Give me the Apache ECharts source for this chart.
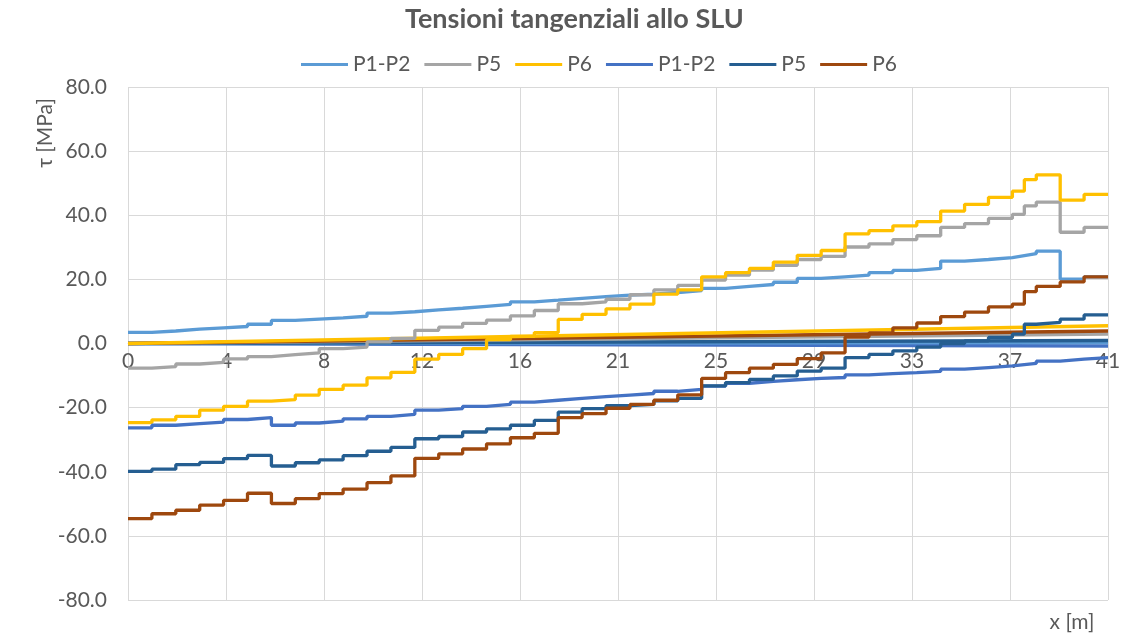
<!DOCTYPE html>
<html>
<head>
<meta charset="utf-8">
<script src="https://cdn.jsdelivr.net/npm/echarts@6/dist/echarts.min.js"></script>
<style>
  html, body { margin: 0; padding: 0; background: #ffffff; }
  #chart { width: 1125px; height: 637px; }
</style>
</head>
<body>
<div id="chart"></div>
<script>
// Stations along the beam [m]; each value below holds from one station to the next.
const stations = [0, 1, 2, 3, 4, 5, 6, 7, 8, 9, 10, 11, 12, 13, 14, 15, 16, 17, 18, 19, 20,
  21, 22, 23, 24, 25, 26, 27, 28, 29, 30, 31, 32, 33, 34, 35, 36, 37, 37.5, 38, 39, 40, 41];

// Tick labels shown on the x axis
const xTickLabels = ['0', '4', '8', '12', '16', '21', '25', '29', '33', '37', '41'];

// Shear stress tau [MPa] per segment
const tauP12a = [3.5, 3.9, 4.5, 4.9, 5.3, 6.0, 7.2, 7.6, 8.0, 8.5, 9.5, 9.9, 10.5, 11.0, 11.6, 12.2,
  13.0, 13.5, 14.1, 14.6, 15.1, 15.4, 15.9, 16.5, 17.2, 17.8, 18.4, 19.1, 20.3, 20.8, 21.3, 22.1,
  22.8, 23.4, 25.7, 26.2, 26.8, 27.4, 28.0, 28.8, 20.1, 20.8];
const tauP5a = [-7.7, -7.2, -6.4, -5.9, -4.8, -4.1, -3.5, -2.9, -1.6, -1.1, 0.5, 1.6, 4.1, 5.1, 6.3, 7.3,
  8.6, 10.3, 12.4, 13.0, 13.8, 15.2, 16.7, 18.1, 19.8, 21.3, 22.9, 24.4, 26.2, 27.2, 30.1, 31.1,
  32.4, 33.6, 36.2, 37.4, 39.0, 40.3, 42.9, 44.1, 34.7, 36.2];
const tauP6a = [-24.7, -23.8, -22.7, -20.8, -19.6, -18.0, -17.5, -16.1, -14.3, -13.0, -10.7, -9.0, -4.9,
  -3.4, -1.6, 1.2, 2.2, 3.4, 7.5, 9.1, 10.8, 12.3, 15.4, 16.7, 20.8, 22.1, 23.4, 25.4, 27.5, 29.0,
  34.2, 35.2, 36.7, 38.0, 41.3, 43.4, 45.6, 47.5, 51.1, 52.6, 44.7, 46.5];
const tauP12b = [-26.3, -25.5, -25.0, -24.5, -23.7, -23.1, -25.5, -24.8, -24.2, -23.5, -22.7, -22.1,
  -20.8, -20.3, -19.6, -19.0, -18.3, -17.7, -17.1, -16.6, -16.1, -15.6, -14.9, -14.3, -13.3, -12.4,
  -11.8, -11.3, -10.9, -10.6, -9.8, -9.4, -9.1, -8.7, -8.0, -7.5, -7.0, -6.6, -6.2, -5.5, -4.9, -4.4];
const tauP5b = [-39.9, -39.2, -37.8, -37.1, -35.9, -34.9, -38.2, -37.2, -36.3, -35.0, -33.6, -32.4,
  -29.7, -29.0, -27.6, -26.6, -25.5, -24.0, -21.4, -20.3, -19.4, -19.0, -17.9, -17.1, -13.2, -12.2,
  -11.2, -10.1, -8.6, -7.7, -4.4, -3.4, -2.3, -1.1, 0.0, 0.8, 1.9, 2.9, 6.0, 6.6, 7.6, 8.9];
const tauP6b = [-54.6, -53.1, -52.0, -50.4, -48.9, -46.7, -49.9, -48.4, -46.8, -45.4, -43.4, -41.3,
  -35.8, -34.4, -32.9, -31.3, -29.4, -28.0, -23.1, -21.9, -20.2, -19.0, -17.7, -16.0, -10.9, -9.1,
  -7.7, -6.5, -4.7, -2.9, 2.0, 3.3, 4.9, 6.4, 8.4, 9.8, 11.4, 12.3, 16.2, 17.8, 19.2, 20.8];

// Small secondary components near zero, straight from the support to the end
const lineEnds = [0, 41];
const smallP12a = [0, 0.3];
const smallP5a = [0, 3.0];
const smallP6a = [0, 5.5];
const smallP12b = [0, -0.8];
const smallP5b = [0, 0.9];
const smallP6b = [0, 3.9];

const colors = {
  p12a: '#5B9BD5', p5a: '#A5A5A5', p6a: '#FFC000',
  p12b: '#4472C4', p5b: '#255E91', p6b: '#9E480E'
};

function stepData(values) {
  const d = values.map((v, i) => [stations[i], v]);
  d.push([stations[stations.length - 1], values[values.length - 1]]);
  return d;
}
function straight(values) {
  return values.map((v, i) => [lineEnds[i], v]);
}

const textColor = '#595959';
const gridColor = '#d9d9d9';
const fontFamily = 'Lato, "Liberation Sans", sans-serif';

// Plot area, so that the category line can sit on tau = 0
const gridTop = 87, gridBottom = 37, chartHeight = 637;
const yMin = -80, yMax = 80;
const plotHeight = chartHeight - gridTop - gridBottom;
const zeroOffset = -plotHeight * (0 - yMin) / (yMax - yMin);

function mainSeries(id, label, values, color) {
  return {
    id: id, name: label, type: 'line', step: 'end', data: stepData(values),
    showSymbol: false, symbol: 'none', lineStyle: { color: color, width: 3.3 },
    itemStyle: { color: color }, animation: false, z: 3
  };
}
function smallSeries(id, values, color) {
  return {
    id: id, name: id, type: 'line', data: straight(values),
    showSymbol: false, symbol: 'none', lineStyle: { color: color, width: 3.5 },
    itemStyle: { color: color }, animation: false, z: 2
  };
}

const chart = echarts.init(document.getElementById('chart'), null, { renderer: 'canvas' });

chart.setOption({
  backgroundColor: '#ffffff',
  animation: false,
  textStyle: { fontFamily: fontFamily },
  title: {
    text: 'Tensioni tangenziali allo SLU',
    left: 400, top: 1,
    textStyle: { color: textColor, fontSize: 27, fontWeight: 'bold', fontFamily: fontFamily }
  },
  legend: {
    top: 49, left: 296,
    data: ['P1-P2#a', 'P5#a', 'P6#a', 'P1-P2#b', 'P5#b', 'P6#b'],
    icon: 'rect', itemWidth: 47, itemHeight: 3, itemGap: 14,
    formatter: (name) => name.split('#')[0],
    textStyle: { color: textColor, fontSize: 21, fontFamily: fontFamily }
  },
  grid: { left: 128, right: 17, top: gridTop, bottom: gridBottom, containLabel: false },
  xAxis: {
    type: 'value', min: 0, max: 41, interval: 4.1,
    position: 'bottom', offset: zeroOffset,
    axisLine: { onZero: false, lineStyle: { color: gridColor, width: 1 } },
    axisTick: { show: false },
    axisLabel: {
      color: textColor, fontSize: 21, fontFamily: fontFamily, margin: 7,
      formatter: (v) => xTickLabels[Math.round(v / 4.1)]
    },
    splitLine: { show: true, lineStyle: { color: gridColor, width: 1 } }
  },
  yAxis: {
    type: 'value', min: yMin, max: yMax, interval: 20,
    axisLine: { show: false }, axisTick: { show: false },
    axisLabel: {
      color: textColor, fontSize: 21, fontFamily: fontFamily, margin: 21,
      formatter: (v) => v.toFixed(1)
    },
    splitLine: { show: true, lineStyle: { color: gridColor, width: 1 } }
  },
  graphic: [
    {
      type: 'text', x: 45, y: 133, rotation: Math.PI / 2,
      style: { text: 'τ [MPa]', fill: textColor, fontSize: 21, fontFamily: fontFamily,
        textAlign: 'center', textVerticalAlign: 'middle' }
    },
    {
      type: 'text', x: 1072, y: 622,
      style: { text: 'x [m]', fill: textColor, fontSize: 21, fontFamily: fontFamily,
        textAlign: 'center', textVerticalAlign: 'middle' }
    }
  ],
  series: [
    smallSeries('s-p12b', smallP12b, colors.p12b),
    smallSeries('s-p12a', smallP12a, colors.p12a),
    smallSeries('s-p5b', smallP5b, colors.p5b),
    smallSeries('s-p5a', smallP5a, colors.p5a),
    smallSeries('s-p6b', smallP6b, colors.p6b),
    smallSeries('s-p6a', smallP6a, colors.p6a),
    mainSeries('m-p12a', 'P1-P2#a', tauP12a, colors.p12a),
    mainSeries('m-p5a', 'P5#a', tauP5a, colors.p5a),
    mainSeries('m-p6a', 'P6#a', tauP6a, colors.p6a),
    mainSeries('m-p12b', 'P1-P2#b', tauP12b, colors.p12b),
    mainSeries('m-p5b', 'P5#b', tauP5b, colors.p5b),
    mainSeries('m-p6b', 'P6#b', tauP6b, colors.p6b)
  ]
});
</script>
</body>
</html>
